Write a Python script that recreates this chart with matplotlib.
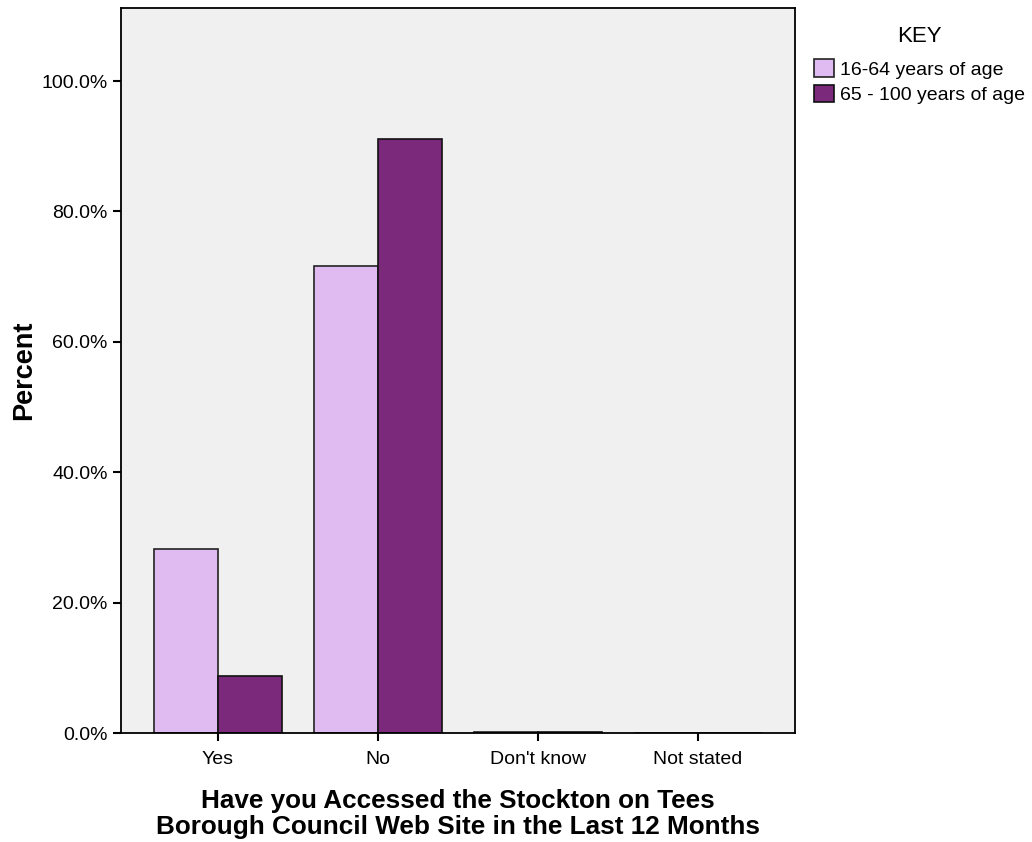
import numpy as np
import matplotlib
matplotlib.use("Agg")
import matplotlib.pyplot as plt
from matplotlib.ticker import FuncFormatter

categories = ["Yes", "No", "Don't know", "Not stated"]
young = [28.2, 71.6, 0.2, 0.05]
old = [8.7, 91.1, 0.1, 0.05]
series_names = ["16-64 years of age", "65 - 100 years of age"]

plt.rcParams['font.family'] = ['Liberation Sans', 'DejaVu Sans']

fig = plt.figure(figsize=(10.32, 8.42), dpi=100)
ax = fig.add_axes([121 / 1032, 109 / 842, 674 / 1032, 725 / 842])
ax.set_facecolor('#f0f0f0')

x = np.arange(len(categories))
w = 0.4
ax.bar(x - w / 2, young, w, color='#dfbbf2', edgecolor='#222222', linewidth=1.2,
       label=series_names[0])
ax.bar(x + w / 2, old, w, color='#7b2a7b', edgecolor='#111111', linewidth=1.2,
       label=series_names[1])

ax.set_xlim(-0.606, 3.606)
ax.set_ylim(0, 111.2)
ax.set_yticks([0, 20, 40, 60, 80, 100])
ax.yaxis.set_major_formatter(FuncFormatter(lambda v, p: f"{v:.1f}%"))
ax.set_xticks(x)
ax.set_xticklabels(categories)
ax.tick_params(axis='both', length=6, width=1.5, labelsize=14, color='black')
ax.tick_params(axis='x', pad=7)
for s in ax.spines.values():
    s.set_linewidth(1.3)

ax.set_ylabel("Percent", fontsize=19.5, fontweight='bold', labelpad=3)
ax.set_xlabel("Have you Accessed the Stockton on Tees\nBorough Council Web Site in the Last 12 Months",
              fontsize=18.8, fontweight='bold', linespacing=1.12, labelpad=15)

leg = ax.legend(loc='upper left', bbox_to_anchor=(1.017, 0.986), frameon=False,
                title="KEY", fontsize=14, title_fontsize=16,
                handlelength=1.0, handleheight=1.0, handletextpad=0.3,
                labelspacing=0.3, borderaxespad=0)
leg._legend_box.sep = 9

fig.savefig("out.png", dpi=100)
